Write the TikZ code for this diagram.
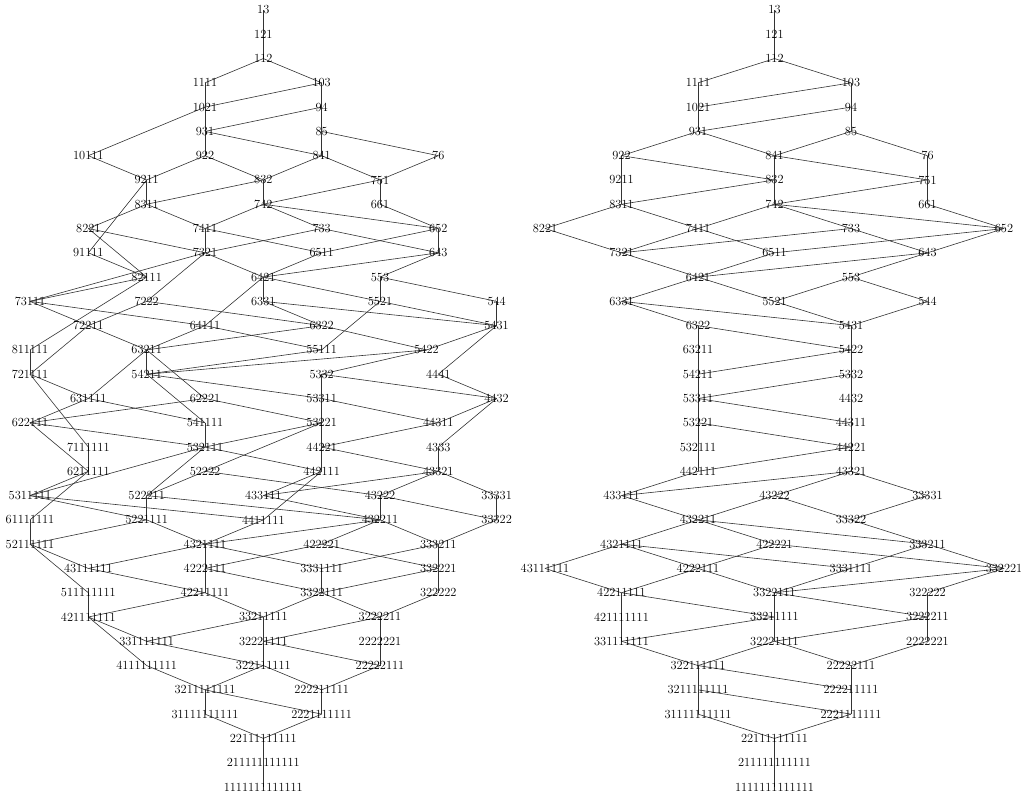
\documentclass[tikz,border=0pt]{standalone}
\usepackage{tikz}
\usetikzlibrary{backgrounds}
\tikzset{
    plabel/.style={
        inner sep=0pt, text=black,
        font=\fontsize{12.4}{12.4}\selectfont
    },
    cover/.style={
        draw=black!80, line width=0.6pt
    }
}

\begin{document}
\begin{tikzpicture}[x=1pt, y=-1pt]
	\useasboundingbox (0,0) rectangle (1021,797);
	
	% LEFT NODES (all partitions of 13)
	\foreach \p/\c/\k in {13/4/0, 121/4/1, 112/4/2,
		1111/3/3, 103/5/3, 1021/3/4, 94/5/4, 931/3/5, 85/5/5,
		10111/1/6, 922/3/6, 841/5/6, 76/7/6,
		9211/2/7, 832/4/7, 751/6/7,
		8311/2/8, 742/4/8, 661/6/8,
		8221/1/9, 7411/3/9, 733/5/9, 652/7/9,
		91111/1/10, 7321/3/10, 6511/5/10, 643/7/10,
		82111/2/11, 6421/4/11, 553/6/11,
		73111/0/12, 7222/2/12, 6331/4/12, 5521/6/12, 544/8/12,
		72211/1/13, 64111/3/13, 6322/5/13, 5431/8/13,
		811111/0/14, 63211/2/14, 55111/5/14, 5422/6.8/14,
		721111/0/15, 54211/2/15, 5332/5/15, 4441/7/15,
		631111/1/16, 62221/3/16, 53311/5/16, 4432/8/16,
		622111/0/17, 541111/3/17, 53221/5/17, 44311/7/17,
		7111111/1/18, 532111/3/18, 44221/5/18, 4333/7/18,
		6211111/1/19, 52222/3/19, 442111/5/19, 43321/7/19,
		5311111/0/20, 522211/2/20, 433111/4/20, 43222/6/20, 33331/8/20,
		61111111/0/21, 5221111/2/21, 4411111/4/21, 432211/6/21, 33322/8/21,
		52111111/0/22, 4321111/3/22, 422221/5/22, 333211/7/22,
		43111111/1/23, 4222111/3/23, 3331111/5/23, 332221/7/23,
		511111111/1/24, 42211111/3/24, 3322111/5/24, 322222/7/24,
		421111111/1/25, 33211111/4/25, 3222211/6/25,
		331111111/2/26, 32221111/4/26, 2222221/6/26,
		4111111111/2/27, 322111111/4/27, 22222111/6/27,
		3211111111/3/28, 222211111/5/28,
		31111111111/3/29, 2221111111/5/29,
		22111111111/4/30, 211111111111/4/31, 1111111111111/4/32}
		\node[plabel] (L\p) at ({30+58.33*\c},{10+24.28*\k}) {\p};
	
	% RIGHT NODES (partitions on a longest chain)
	\foreach \p/\c/\k in {13/3/0, 121/3/1, 112/3/2,
		1111/2/3, 103/4/3, 1021/2/4, 94/4/4, 931/2/5, 85/4/5,
		922/1/6, 841/3/6, 76/5/6,
		9211/1/7, 832/3/7, 751/5/7,
		8311/1/8, 742/3/8, 661/5/8,
		8221/0/9, 7411/2/9, 733/4/9, 652/6/9,
		7321/1/10, 6511/3/10, 643/5/10,
		6421/2/11, 553/4/11,
		6331/1/12, 5521/3/12, 544/5/12,
		6322/2/13, 5431/4/13, 63211/2/14, 5422/4/14,
		54211/2/15, 5332/4/15, 53311/2/16, 4432/4/16,
		53221/2/17, 44311/4/17, 532111/2/18, 44221/4/18,
		442111/2/19, 43321/4/19,
		433111/1/20, 43222/3/20, 33331/5/20,
		432211/2/21, 33322/4/21,
		4321111/1/22, 422221/3/22, 333211/5/22,
		43111111/0/23, 4222111/2/23, 3331111/4/23, 332221/6/23,
		42211111/1/24, 3322111/3/24, 322222/5/24,
		421111111/1/25, 33211111/3/25, 3222211/5/25,
		331111111/1/26, 32221111/3/26, 2222221/5/26,
		322111111/2/27, 22222111/4/27,
		3211111111/2/28, 222211111/4/28,
		31111111111/2/29, 2221111111/4/29,
		22111111111/3/30, 211111111111/3/31, 1111111111111/3/32}
		\node[plabel] (R\p) at ({545+76.5*\c},{10+24.28*\k}) {\p};
	
	% COVERS
	\begin{scope}[on background layer]
		\foreach \a/\bb in {13/{121}, 121/{112}, 112/{103,1111}, 1111/{1021},
			103/{94,1021}, 1021/{931,10111}, 10111/{9211}, 94/{85,931},
			931/{841,922}, 922/{832,9211}, 9211/{8311,91111}, 91111/{82111},
			85/{76,841}, 841/{751,832}, 832/{742,8311}, 8311/{7411,8221},
			8221/{7321,82111}, 82111/{73111,811111}, 811111/{721111}, 76/{751},
			751/{661,742}, 742/{652,733,7411}, 7411/{6511,7321}, 733/{643,7321},
			7321/{6421,7222,73111}, 73111/{64111,72211}, 7222/{6322,72211},
			72211/{63211,721111}, 721111/{631111,7111111}, 7111111/{6211111},
			661/{652}, 652/{643,6511}, 6511/{6421}, 643/{553,6421},
			6421/{5521,6331,64111}, 64111/{55111,63211}, 6331/{5431,6322},
			6322/{5422,63211}, 63211/{54211,62221,631111}, 631111/{541111,622111},
			62221/{53221,622111}, 622111/{532111,6211111},
			6211111/{5311111,61111111}, 61111111/{52111111},
			553/{544,5521}, 5521/{5431,55111}, 55111/{54211}, 544/{5431},
			5431/{4441,5422}, 5422/{5332,54211}, 54211/{53311,541111},
			541111/{532111}, 5332/{4432,53311}, 53311/{44311,53221},
			53221/{44221,52222,532111}, 532111/{442111,522211,5311111},
			5311111/{4411111,5221111}, 52222/{43222,522211},
			522211/{432211,5221111}, 5221111/{4321111,52111111},
			52111111/{43111111,511111111}, 511111111/{421111111},
			4441/{4432}, 4432/{4333,44311}, 44311/{44221}, 44221/{43321,442111},
			442111/{433111,4411111}, 4411111/{4321111}, 4333/{43321},
			43321/{33331,43222,433111}, 433111/{432211}, 43222/{33322,432211},
			432211/{333211,422221,4321111}, 4321111/{3331111,4222111,43111111},
			43111111/{42211111}, 422221/{332221,4222111},
			4222111/{3322111,42211111}, 42211111/{33211111,421111111},
			421111111/{331111111,4111111111}, 4111111111/{3211111111},
			33331/{33322}, 33322/{333211}, 333211/{332221,3331111},
			3331111/{3322111}, 332221/{322222,3322111},
			3322111/{3222211,33211111}, 33211111/{32221111,331111111},
			331111111/{322111111}, 322222/{3222211}, 3222211/{2222221,32221111},
			32221111/{22222111,322111111}, 322111111/{222211111,3211111111},
			3211111111/{2221111111,31111111111}, 31111111111/{22111111111},
			2222221/{22222111}, 22222111/{222211111}, 222211111/{2221111111},
			2221111111/{22111111111}, 22111111111/{211111111111},
			211111111111/{1111111111111}}
			\foreach \b in \bb
				\draw[cover] (L\a.center) -- (L\b.center);
		
		\foreach \a/\bb in {13/{121}, 121/{112}, 112/{1111,103}, 1111/{1021},
			103/{1021,94}, 1021/{931}, 94/{931,85}, 931/{922,841}, 85/{841,76},
			922/{9211,832}, 841/{832,751}, 76/{751}, 9211/{8311},
			832/{8311,742}, 751/{742,661}, 8311/{8221,7411},
			742/{7411,733,652}, 661/{652}, 8221/{7321}, 7411/{7321,6511},
			733/{7321,643}, 652/{6511,643}, 7321/{6421}, 6511/{6421},
			643/{6421,553}, 6421/{6331,5521}, 553/{5521,544},
			6331/{6322,5431}, 5521/{5431}, 544/{5431}, 6322/{63211,5422},
			5431/{5422}, 63211/{54211}, 5422/{54211,5332}, 54211/{53311},
			5332/{53311,4432}, 53311/{53221,44311}, 4432/{44311},
			53221/{532111,44221}, 44311/{44221}, 532111/{442111},
			44221/{442111,43321}, 442111/{433111}, 43321/{433111,43222,33331},
			433111/{432211}, 43222/{432211,33322}, 33331/{33322},
			432211/{4321111,422221,333211}, 33322/{333211},
			4321111/{43111111,4222111,3331111}, 422221/{4222111,332221},
			333211/{3331111,332221}, 43111111/{42211111},
			4222111/{42211111,3322111}, 3331111/{3322111},
			332221/{3322111,322222}, 42211111/{421111111,33211111},
			3322111/{33211111,3222211}, 322222/{3222211},
			421111111/{331111111}, 33211111/{331111111,32221111},
			3222211/{32221111,2222221}, 331111111/{322111111},
			32221111/{322111111,22222111}, 2222221/{22222111},
			322111111/{3211111111,222211111}, 22222111/{222211111},
			3211111111/{31111111111,2221111111}, 222211111/{2221111111},
			31111111111/{22111111111}, 2221111111/{22111111111},
			22111111111/{211111111111}, 211111111111/{1111111111111}}
			\foreach \b in \bb
				\draw[cover] (R\a.center) -- (R\b.center);
	\end{scope}
	
\end{tikzpicture}
\end{document}
